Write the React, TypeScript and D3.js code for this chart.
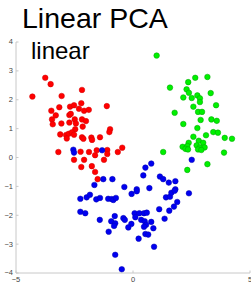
import React from 'react';
import * as d3 from 'd3';

const width = 251;
const height = 284;
const xTicks = [-5, 0, 5];
const yTicks = [-4, -3, -2, -1, 0, 1, 2, 3, 4];

const redX = [-3.75, -3.52, -4.30, -3.05, -2.18, -3.15, -2.69, -2.52, -2.21, -3.49, -3.30, -3.46, -3.43, -3.06, -2.72, -2.66, -2.31, -2.09, -1.89, -1.12, -2.49, -2.72, -2.44, -2.18, -2.01, -2.47, -2.15, -3.11, -2.86, -2.75, -2.61, -2.52, -2.83, -2.18, -2.12, -1.78, -1.75, -1.41, -0.98, -1.01, -3.19, -2.24, -1.88, -1.55, -1.10, -1.10, -0.65, -0.46, -2.52, -2.09, -1.62, -1.24, -2.21, -1.76, -1.62, -1.51];
const redY = [2.76, 2.54, 2.11, 2.13, 2.34, 1.74, 1.76, 1.81, 1.88, 1.62, 1.46, 1.32, 1.15, 1.18, 1.47, 1.51, 1.69, 1.62, 1.65, 1.78, 1.32, 1.21, 1.18, 1.32, 1.26, 0.98, 1.07, 0.80, 0.78, 0.82, 0.87, 0.79, 0.66, 0.70, 0.65, 0.69, 0.61, 0.70, 0.98, 0.88, 0.19, 0.20, 0.19, 0.25, 0.26, 0.12, 0.19, 0.34, -0.08, -0.08, 0.08, -0.08, -0.33, -0.30, -0.50, -0.75];

const greenX = [1.01, 1.58, 2.36, 2.66, 3.18, 3.32, 2.29, 2.39, 2.15, 2.51, 2.75, 2.86, 2.86, 2.58, 3.55, 1.78, 2.78, 2.95, 2.89, 3.35, 3.58, 2.15, 2.75, 3.43, 3.63, 3.12, 3.92, 4.23, 2.58, 2.81, 3.00, 2.38, 2.12, 2.32, 2.72, 2.86, 3.06, 2.78, 2.92, 2.24, 2.35, 1.29, 3.89, 3.18, 2.32];
const greenY = [3.53, 2.42, 2.61, 2.76, 2.79, 2.23, 2.36, 2.24, 2.08, 2.06, 2.15, 2.05, 1.92, 1.76, 1.81, 1.55, 1.58, 1.58, 1.30, 1.32, 1.27, 1.16, 1.02, 0.88, 0.86, 0.77, 0.68, 0.65, 0.72, 0.58, 0.51, 0.51, 0.37, 0.40, 0.42, 0.35, 0.35, 0.28, 0.26, 0.30, 0.28, 0.19, 0.17, -0.23, -0.43];

const blueX = [-2.55, -2.52, -1.32, 0.78, 0.53, 0.44, 1.15, 1.29, 1.53, 1.81, 2.51, -1.65, -1.27, -0.88, -0.37, 0.16, 0.70, 1.81, -2.25, -1.98, -1.84, -1.57, -1.41, -1.06, -0.91, -0.84, -0.73, -0.06, 0.16, 1.41, 1.58, 1.64, 1.78, 2.39, 1.89, 1.75, 1.55, 1.12, -2.25, -2.04, -1.42, -0.78, -0.93, -0.76, -0.81, -1.04, -0.41, -0.35, -0.07, -0.20, 0.07, 0.27, 0.47, 0.59, 0.10, 0.35, 0.50, 0.56, 0.47, 0.78, 0.87, 0.53, 0.65, 1.35, 0.24, 0.90, -0.76, -0.48];
const blueY = [0.27, 0.17, 0.25, -0.21, -0.35, -0.62, -0.66, -0.75, -0.87, -0.82, -0.08, -0.95, -0.75, -0.75, -1.02, -1.10, -1.06, -1.10, -1.43, -1.38, -1.29, -1.45, -1.40, -1.43, -1.44, -1.47, -1.40, -1.26, -1.17, -1.38, -1.36, -1.22, -1.15, -1.24, -1.54, -1.70, -1.84, -1.79, -1.88, -1.93, -2.16, -2.03, -2.21, -2.28, -2.37, -2.57, -2.10, -2.16, -2.30, -2.42, -1.93, -1.93, -1.93, -1.91, -2.07, -2.16, -2.21, -2.33, -2.40, -2.23, -2.45, -2.65, -2.67, -2.12, -2.81, -3.09, -3.37, -3.87];

const series = [
  { xs: redX, ys: redY, fill: '#ff0000', stroke: '#d00000' },
  { xs: greenX, ys: greenY, fill: '#00f000', stroke: '#00a000' },
  { xs: blueX, ys: blueY, fill: '#0000f0', stroke: '#0000b0' },
];

export default function App() {
  const x = d3.scaleLinear().domain([-5, 5]).range([16, 250]);
  const y = d3.scaleLinear().domain([-4, 4]).range([273, 42]);
  const axisColor = '#c8c8c8';

  return (
    <svg width={width} height={height} style={{ position: 'absolute', left: 0, top: 0, background: '#fff' }}
      fontFamily="'Liberation Sans', Arial, sans-serif">
      {/* axes */}
      <line x1={x(-5)} x2={x(-5)} y1={y(4)} y2={y(-4)} stroke={axisColor} strokeWidth={1} />
      <line x1={x(-5)} x2={x(5)} y1={y(-4)} y2={y(-4)} stroke={axisColor} strokeWidth={1} />
      {yTicks.map(t => (
        <g key={'y' + t}>
          <line x1={x(-5)} x2={x(-5) + 2.5} y1={y(t)} y2={y(t)} stroke={axisColor} />
          <text x={x(-5) - 3} y={y(t)} dy="0.32em" textAnchor="end" fontSize={7.5} fill="#444">
            {t < 0 ? '\u2212' + Math.abs(t) : t}
          </text>
        </g>
      ))}
      {xTicks.map(t => (
        <g key={'x' + t}>
          <line x1={x(t)} x2={x(t)} y1={y(-4)} y2={y(-4) - 2.5} stroke={axisColor} />
          <text x={x(t)} y={y(-4) + 9} textAnchor="middle" fontSize={7.5} fill="#444">
            {t < 0 ? '\u2212' + Math.abs(t) : t}
          </text>
        </g>
      ))}
      {/* points */}
      {series.map((s, si) => (
        <g key={si}>
          {s.xs.map((v, i) => (
            <circle key={i} cx={x(v)} cy={y(s.ys[i])} r={2.8} fill={s.fill} stroke={s.stroke} strokeWidth={0.5} />
          ))}
        </g>
      ))}
      <text x={22} y={28} fontSize={28.5} fill="#000">Linear PCA</text>
      <text x={31} y={59} fontSize={24} fill="#000">linear</text>
    </svg>
  );
}
